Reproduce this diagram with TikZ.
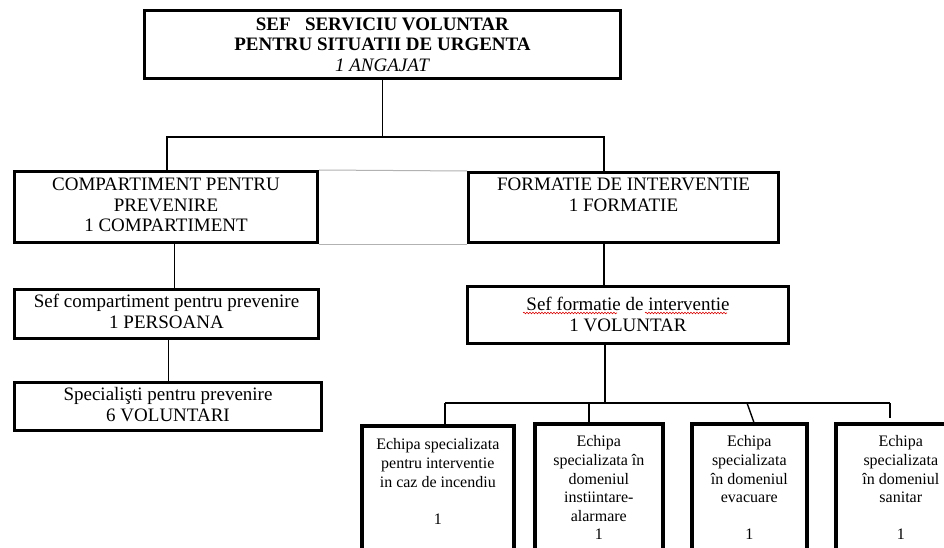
\documentclass[tikz,border=0pt]{standalone}
\usepackage{fontspec}
\setmainfont{Liberation Serif}
\usetikzlibrary{decorations.pathmorphing}
\newcommand\mybox[3]{\parbox[t][#1][t]{#2}{\centering\strut #3}}
\tikzset{
  bx/.style={draw, line width=3pt, anchor=north west, inner xsep=0pt, font={\fontsize{19}{20.5}\selectfont}},
  ebx/.style={draw, line width=3.6pt, anchor=north west, inner xsep=0pt, font={\fontsize{16}{18.6}\selectfont}},
  conn/.style={draw, line width=1.4pt},
  thin/.style={draw, line width=1pt, black!30},
  squig/.style={draw=red!85!black, line width=0.6pt, decorate, decoration={snake, amplitude=0.8pt, segment length=3pt}}
}
\begin{document}
\begin{tikzpicture}[x=1pt,y=-1pt]
\useasboundingbox (0,0) rectangle (944,548);
\clip (0,0) rectangle (944,548);
\fill[white] (0,0) rectangle (944,548);

% boxes
\node[bx, inner ysep=5.65pt] (top) at (143,9) {\mybox{56.7pt}{476pt}{\textbf{SEF\ \ \ SERVICIU VOLUNTAR}\\ \textbf{PENTRU SITUATII DE URGENTA}\\ \textit{1 ANGAJAT}}};
\node[bx, inner ysep=4.65pt] (comp) at (13,170) {\mybox{61.7pt}{303pt}{COMPARTIMENT PENTRU\\ PREVENIRE\\ 1 COMPARTIMENT}};
\node[bx, inner ysep=3.65pt] (form) at (467,171) {\mybox{62.7pt}{310pt}{FORMATIE DE INTERVENTIE\\ 1 FORMATIE}};
\node[bx, inner ysep=3.65pt] (sefc) at (13,288) {\mybox{41.7pt}{304pt}{Sef compartiment pentru prevenire\\ 1 PERSOANA}};
\node[bx, inner ysep=3.65pt] (spec) at (13,381) {\mybox{40.7pt}{307pt}{Specialişti pentru prevenire\\ 6 VOLUNTARI}};
\node[bx, inner ysep=9.65pt] (sefform) at (466,285) {\mybox{37.7pt}{321pt}{Sef formatie de interventie\\ 1 VOLUNTAR}};

\node[ebx, inner ysep=10.98pt] (e1) at (360,424) {\mybox{118pt}{152pt}{Echipa specializata\\ pentru interventie\\ in caz de incendiu\\[18.6pt] 1}};
\node[ebx, inner ysep=9.98pt] (e2) at (533,422) {\mybox{120pt}{128pt}{Echipa\\ specializata în\\ domeniul\\ instiintare-\\ alarmare\\ 1}};
\node[ebx, inner ysep=9.98pt] (e3) at (690,422) {\mybox{120pt}{115pt}{Echipa\\ specializata\\ în domeniul\\ evacuare\\[18.6pt] 1}};
\node[ebx, inner ysep=9.98pt] (e4) at (834,422) {\mybox{120pt}{130pt}{Echipa\\ specializata\\ în domeniul\\ sanitar\\[18.6pt] 1}};

% spell-check underline
\draw[squig] (523,313) -- (617,313);
\draw[squig] (645,313) -- (727,313);

% connectors
\coordinate (b1l) at (167,137);
\coordinate (b1r) at (604,137);
\draw[conn] (top.south) -- (top.south |- b1l);
\draw[conn] (b1l |- comp.north) -- (b1l) -- (b1r) -- (b1r |- form.north);
\draw[thin] (comp.north east) -- (form.north west);
\draw[thin] (comp.south east) -- (form.south west);

\draw[conn] ([xshift=8.5pt]comp.south) -- ([xshift=8.5pt]comp.south |- sefc.north);
\draw[conn] ([xshift=2pt]sefc.south) -- ([xshift=2pt]sefc.south |- spec.north);
\draw[conn] (b1r |- form.south) -- (b1r |- sefform.north);

\coordinate (b2) at (605,403);
\coordinate (b2l) at (445,403);
\coordinate (b2b) at (589,403);
\coordinate (b2c) at (747,403);
\coordinate (b2r) at (890,403);
\coordinate (b2re) at (890,418);
\draw[conn] (b2 |- sefform.south) -- (b2);
\draw[conn] (b2l) -- (b2r);
\draw[conn] (b2l) -- (b2l |- e1.north);
\draw[conn] (b2b) -- (b2b |- e2.north);
\draw[conn] (b2c) -- ([xshift=4.5pt]e3.north);
\draw[conn] (b2r) -- (b2re);
\end{tikzpicture}
\end{document}
